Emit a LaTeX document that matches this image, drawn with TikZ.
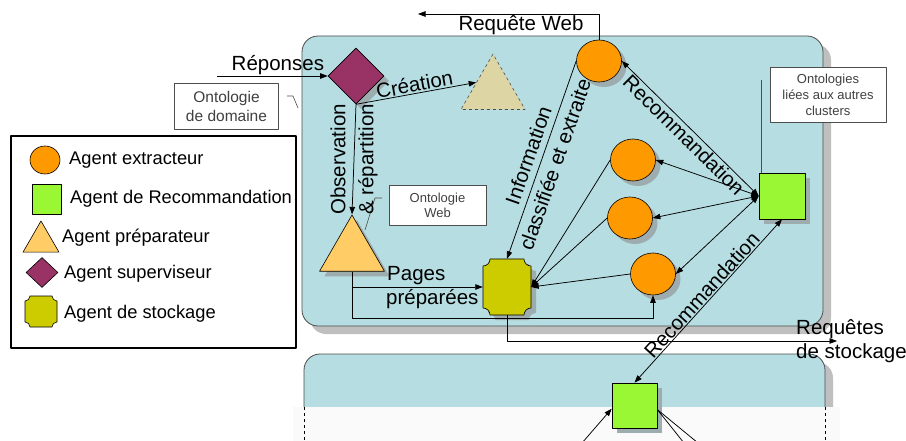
\documentclass[tikz,border=0pt]{standalone}
\usepackage{fontspec}
\setmainfont{Liberation Sans}
\usetikzlibrary{shapes.geometric,shadows,arrows.meta}
\definecolor{clusterc}{HTML}{B6DDE1}
\definecolor{boxshadow}{HTML}{BFBFBF}
\definecolor{shadowc}{HTML}{9DACAF}
\definecolor{orangec}{HTML}{FF9900}
\definecolor{greenc}{HTML}{99F733}
\definecolor{stockc}{HTML}{CCCC00}
\definecolor{supc}{HTML}{993366}
\definecolor{prepc}{HTML}{FFCC66}
\definecolor{creac}{HTML}{DDD5A3}
\definecolor{bordc}{HTML}{4D4D4D}
\definecolor{greytext}{HTML}{404040}
\definecolor{overlayc}{HTML}{FAFAFA}
\begin{document}
\begin{tikzpicture}[x=1pt,y=-1pt,line join=round,
  big/.style={font=\fontsize{20.5}{28}\selectfont},
  legtext/.style={font=\fontsize{18.3}{22}\selectfont, anchor=west, inner sep=0pt},
  conn/.style={draw, line width=0.75pt},
  tip/.style={-{Triangle[length=7.5pt,width=5.5pt]}},
  tips/.style={{Triangle[length=7.5pt,width=5.5pt]}-{Triangle[length=7.5pt,width=5.5pt]}},
  tipback/.style={{Triangle[length=7.5pt,width=5.5pt]}-},
  shad/.style={drop shadow={shadow xshift=5pt,shadow yshift=-5pt,fill=shadowc,opacity=1}},
  ext/.style={ellipse, draw, fill=orangec, minimum width=45pt, minimum height=42pt, inner sep=0pt, line width=0.6pt},
  recs/.style={rectangle, draw, fill=greenc, minimum width=46pt, minimum height=46pt, inner sep=0pt, line width=0.6pt},
  supd/.style={diamond, draw, fill=supc, minimum width=56pt, minimum height=56pt, inner sep=0pt, line width=0.6pt},
  tri/.style={regular polygon, regular polygon sides=3, draw, inner sep=0pt, line width=0.6pt},
  ontbox/.style={rectangle, draw=bordc, fill=white, align=center, text=greytext, inner sep=0pt, line width=0.6pt},
  callout/.style={draw=bordc, line width=0.6pt}
]
\useasboundingbox (0,0) rectangle (906,441);
\fill[white] (0,0) rectangle (906,441);

% cluster boxes
\path[draw=bordc, fill=clusterc, line width=0.8pt, rounded corners=16pt,
  drop shadow={shadow xshift=8pt, shadow yshift=-8pt, fill=boxshadow, opacity=1}]
  (302,36) rectangle (823,326);
\path[draw=bordc, fill=clusterc, line width=0.8pt, rounded corners=16pt,
  drop shadow={shadow xshift=8pt, shadow yshift=-8pt, fill=boxshadow, opacity=1}]
  (304,354) rectangle (825,480);
\fill[overlayc] (293,407) rectangle (840,445);
\draw[dashed, line width=0.7pt] (304,407) -- (304,441);
\draw[dashed, line width=0.7pt] (825,407) -- (825,441);

% legend
\draw[line width=2.6pt] (11,136) rectangle (296,348);
\node[ext, minimum width=30pt, minimum height=28pt] (lgext) at (45,160) {};
\node[legtext] (lgt1) at (69,160) {Agent extracteur};
\node[recs, minimum width=29pt, minimum height=30pt] (lgrec) at (46.5,199) {};
\node[legtext] (lgt2) at (70,199) {Agent de Recommandation};
\node[tri, fill=prepc, minimum size=41.6pt] (lgprep) at (41,241.8) {};
\node[legtext] (lgt3) at (62,238) {Agent préparateur};
\node[supd, minimum width=32pt, minimum height=30pt] (lgsup) at (42,272.5) {};
\node[legtext] (lgt4) at (64,274) {Agent superviseur};
\path[draw, fill=stockc, line width=0.6pt]
  (30,296) -- (52,296) to[out=-90,in=180] (57,301) -- (57,322) to[out=180,in=90] (52,327)
  -- (30,327) to[out=90,in=0] (25,322) -- (25,301) to[out=0,in=-90] (30,296) -- cycle;
\node[legtext] (lgt5) at (64,314) {Agent de stockage};

% agents
\node[ext, shad] (ext1) at (599,61) {};
\node[ext, shad] (ext2) at (633,160) {};
\node[ext, shad] (ext3) at (630,218) {};
\node[ext, shad] (ext4) at (653,274) {};
\node[recs, shad] (rec) at (782,196) {};
\node[recs, shad, minimum width=45pt, minimum height=45pt] (rec2) at (634.5,405.5) {};
\node[supd, shad] (sup) at (356,76) {};
\node[tri, fill=prepc, minimum size=75pt, shad] (prep) at (352,252.5) {};
\node[tri, fill=creac, draw=bordc, dashed, minimum size=74pt] (crea) at (493,91) {};
\node[minimum width=48pt, minimum height=56pt, inner sep=0pt] (st) at (507,287) {};
\path[draw, fill=stockc, line width=0.6pt, shad]
  (490,259) -- (524,259) to[out=-90,in=180] (531,266) -- (531,308) to[out=180,in=90] (524,315)
  -- (490,315) to[out=90,in=0] (483,308) -- (483,266) to[out=0,in=-90] (490,259) -- cycle;

% ontology boxes
\node[ontbox, minimum width=104pt, minimum height=46pt, font=\fontsize{15.5}{19}\selectfont] (od) at (226.5,106) {Ontologie\\de domaine};
\node[ontbox, minimum width=97pt, minimum height=40pt, font=\fontsize{13}{15}\selectfont] (ow) at (437.5,205) {Ontologie\\Web};
\node[ontbox, minimum width=116pt, minimum height=55pt, font=\fontsize{13}{16}\selectfont] (ol) at (828,94.5) {Ontologies\\liées aux autres\\clusters};
\coordinate (odc1) at (287,96); \coordinate (odc2) at (293,96); \coordinate (odc3) at (298,108);
\draw[callout] (odc1) -- (odc2) -- (odc3);
\coordinate (owc1) at (382,198); \coordinate (owc2) at (375,198); \coordinate (owc3) at (365,230);
\draw[callout] (owc1) -- (owc2) -- (owc3);
\coordinate (olc) at (761,80);
\draw[callout] (olc) -- (olc |- rec.north);

% connectors
\coordinate (repin) at (217,76);
\draw[conn, tip] (repin) -- node[big, above, inner sep=0.5pt, pos=0.55] (lrep) {Réponses} (sup.west);
\draw[conn, tip] (sup.south) -- node[big, sloped, above, inner sep=1pt] (lcrea) {Création} (crea.153);
\draw[conn, tip] (sup.south) -- node[big, midway, rotate=90, align=center, inner sep=0pt] (lobs) {Observation\\\& répartition} (prep.corner 1);
\draw[conn, tipback] (st.north) -- node[big, sloped, midway, align=center, inner sep=0pt] (linfo) {Information\\classifiée et extraite} (ext1.west);
\draw[conn, tips] (ext1.east) -- node[big, sloped, below, inner sep=1pt] (lrec1) {Recommandation} (rec.west);
\draw[conn, tips] (rec.west) -- (ext2.east);
\draw[conn, tips] (rec.west) -- (ext3.east);
\draw[conn, tips] (rec.west) -- (ext4.east);
\draw[conn, tip] (ext2.west) -- (st.east);
\draw[conn, tip] (ext3.west) -- (st.east);
\draw[conn, tip] (ext4.west) -- (st.east);
\draw[conn, tips] (rec2.north) -- node[big, sloped, above, inner sep=1pt] (lrec2) {Recommandation} (rec.south);

\path (prep.side 2) coordinate (pb);
\draw[conn, tip] (pb) -- ++(0,47) -| (ext4.south);
\draw[conn, tip] (pb |- st.west) -- (st.west);
\node[big, anchor=base west, inner sep=0pt] (lpg1) at (387,280) {Pages};
\node[big, anchor=base west, inner sep=0pt] (lpg2) at (386,304) {préparées};

\coordinate (reqend) at (837,341);
\draw[conn, tip] (st.south) |- (reqend);
\node[big, anchor=base west, inner sep=0pt] (lrq1) at (796,334) {Requêtes};
\node[big, anchor=base west, inner sep=0pt] (lrq2) at (796,358) {de stockage};

\coordinate (rwend) at (418,14);
\draw[conn, tip] (ext1.north) |- (rwend);
\node[big, inner sep=0pt] (lrw) at (521,25) {Requête Web};

\coordinate (lin) at (582,443);
\coordinate (lout1) at (684,443);
\coordinate (lout2) at (698,443);
\draw[conn, tip] (lin) -- (rec2.188);
\draw[conn] (rec2.-10) -- (lout1);
\draw[conn] (rec2.-10) -- (lout2);
\end{tikzpicture}
\end{document}
